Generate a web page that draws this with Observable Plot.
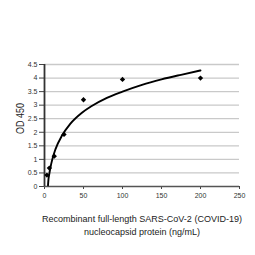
<!DOCTYPE html>
<html><head><meta charset="utf-8">
<script src="https://cdn.jsdelivr.net/npm/d3@7"></script>
<script src="https://cdn.jsdelivr.net/npm/@observablehq/plot@0.6"></script>
<style>
html,body{margin:0;padding:0;background:#fff;}
svg{display:block;}
</style>
</head><body>
<div id="chart"></div>
<script>
// measured points
const conc = [3.125, 6.25, 12.5, 25, 50, 100, 200];
const od = [0.42, 0.68, 1.12, 1.92, 3.2, 3.95, 4.0];
// fitted curve
const fitX = [4.5, 5, 6, 7.7, 10, 14, 22.5, 33, 48, 60, 80, 100, 125, 150, 175, 200];
const fitY = [0.04, 0.24, 0.44, 0.71, 1.0, 1.37, 1.88, 2.31, 2.72, 2.96, 3.27, 3.5, 3.75, 3.95, 4.12, 4.28];
const yTicks = [0, 0.5, 1, 1.5, 2, 2.5, 3, 3.5, 4, 4.5];
const yTickLabels = ["0", "0.5", "1", "1.5", "2", "2.5", "3", "3.5", "4", "4.5"];
const xTicks = [0, 50, 100, 150, 200, 250];
const yTitle = "OD 450";
const xTitle = "Recombinant full-length SARS-CoV-2 (COVID-19)\nnucleocapsid protein (ng/mL)";

const points = conc.map((c, i) => ({c, od: od[i]}));
const fit = fitX.map((x, i) => ({x, y: fitY[i]}));
const font = "'Liberation Sans', Arial, sans-serif";

const chart = Plot.plot({
  width: 255, height: 255,
  marginLeft: 44, marginRight: 16, marginTop: 64, marginBottom: 69,
  style: {fontFamily: font, background: "#fff", color: "#222"},
  x: {domain: [0, 250]},
  y: {domain: [0, 4.5]},
  marks: [
    Plot.ruleY(yTicks.filter(d => d > 0), {stroke: "#c9c9c9", strokeWidth: 1.3}),
    Plot.axisY({ticks: yTicks, tickFormat: (d) => yTickLabels[yTicks.indexOf(d)], tickSize: 5, tickPadding: 2, fontSize: 7, label: null, stroke: "#444", fill: "#333"}),
    Plot.axisX({ticks: xTicks, tickSize: 3, tickPadding: 4, fontSize: 7, label: null, stroke: "#444", fill: "#333"}),
    Plot.ruleY([0], {stroke: "#555", strokeWidth: 1.3}),
    Plot.ruleX([0], {stroke: "#333", strokeWidth: 1.8}),
    Plot.line(fit, {x: "x", y: "y", stroke: "#000", strokeWidth: 1.9, curve: "monotone-x"}),
    Plot.dot(points, {x: "c", y: "od", symbol: "diamond2", r: 2.4, fill: "#000", stroke: "none"}),
    Plot.text([yTitle], {frameAnchor: "left", textAnchor: "middle", lineAnchor: "middle", rotate: -90, dx: -24, dy: -7, fontSize: 11, fill: "#222", className: "ytitle"}),
    Plot.text([xTitle], {frameAnchor: "bottom", lineAnchor: "middle", dy: 37.7, lineHeight: 1.45, fontSize: 9.5, fill: "#222", className: "xtitle"})
  ]
});
document.getElementById("chart").appendChild(chart);
// condense the titles like the narrow font of the reference
const xt = chart.querySelectorAll(".xtitle tspan");
const lens = [200, 116];
xt.forEach((t, i) => { t.setAttribute("textLength", lens[i]); t.setAttribute("lengthAdjust", "spacingAndGlyphs"); });
chart.querySelectorAll(".ytitle text").forEach(t => { t.setAttribute("textLength", 31); t.setAttribute("lengthAdjust", "spacingAndGlyphs"); });
</script>
</body></html>
